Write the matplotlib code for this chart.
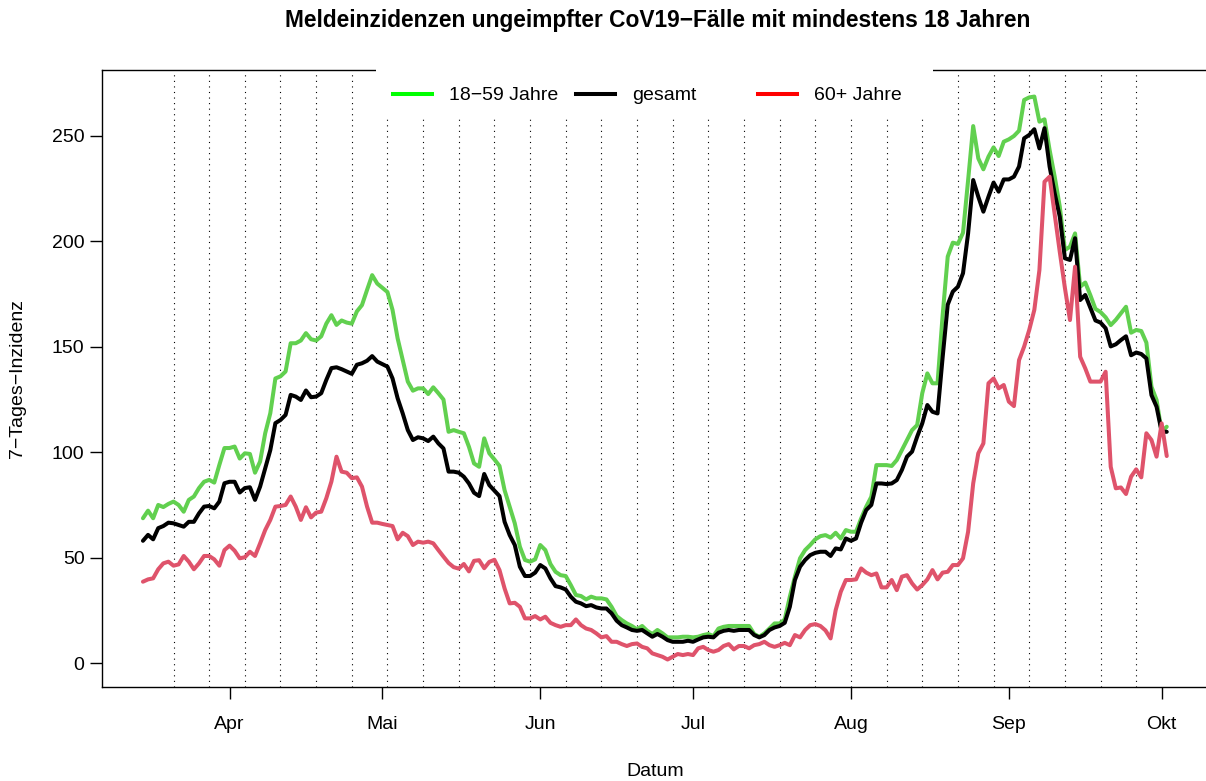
import matplotlib
matplotlib.use("Agg")
import matplotlib.pyplot as plt
import matplotlib.dates as mdates
import numpy as np
import pandas as pd
from matplotlib.lines import Line2D
from matplotlib.patches import Rectangle

# daily 7-day incidence, 2021-03-15 .. 2021-10-02
start_date = "2021-03-15"

inz_18_59 = [
    68.7, 72.3, 68.7, 75.0, 74.0, 75.5, 76.6, 75.0, 71.8, 77.4,
    79.0, 83.0, 86.0, 86.9, 85.6, 94.0, 102.0, 102.0, 102.7, 97.0,
    99.5, 99.2, 90.3, 95.6, 109.0, 118.5, 135.0, 136.0, 138.3, 151.7,
    151.7, 153.0, 156.5, 153.6, 153.0, 155.0, 161.0, 165.0, 160.4, 162.5,
    161.5, 161.0, 166.8, 169.8, 177.0, 184.0, 180.0, 178.0, 176.0, 167.5,
    154.0, 143.7, 133.5, 129.2, 130.3, 130.3, 127.6, 130.8, 128.0, 125.0,
    109.7, 110.5, 109.7, 109.0, 102.6, 94.7, 93.1, 106.6, 99.5, 96.6,
    93.5, 82.0, 74.2, 66.3, 55.2, 48.9, 48.1, 49.2, 56.0, 53.6,
    47.0, 43.3, 41.7, 41.3, 37.0, 32.3, 31.8, 30.2, 31.5, 30.7,
    30.7, 30.2, 26.7, 22.3, 20.4, 18.8, 17.6, 16.0, 17.6, 15.3,
    13.8, 15.7, 14.1, 12.2, 12.2, 12.2, 12.5, 12.5, 12.2, 12.5,
    13.3, 13.8, 12.8, 16.4, 17.2, 17.6, 17.6, 17.6, 17.6, 17.6,
    13.8, 12.5, 14.1, 16.4, 18.8, 18.8, 20.7, 31.5, 41.0, 49.7,
    53.6, 56.0, 58.7, 60.2, 60.7, 59.5, 61.8, 59.1, 63.1, 62.3,
    62.3, 68.6, 74.2, 78.9, 93.9, 93.9, 93.9, 93.5, 96.3, 101.0,
    105.8, 110.5, 112.9, 128.0, 137.4, 132.7, 132.7, 165.0, 192.8, 199.4,
    198.8, 204.1, 229.0, 254.7, 239.4, 234.2, 240.2, 244.6, 240.5, 247.3,
    248.4, 250.0, 252.5, 267.1, 268.3, 268.7, 256.8, 257.9, 243.4, 230.7,
    216.5, 195.9, 197.5, 203.8, 178.5, 180.5, 174.5, 168.0, 166.5, 164.0,
    160.3, 162.8, 165.9, 169.0, 156.7, 158.0, 157.5, 152.0, 131.1, 124.8,
    109.7, 112.1,
]

inz_gesamt = [
    58.0, 60.8, 58.7, 64.0, 65.0, 66.6, 66.3, 65.5, 64.7, 67.0,
    67.0, 71.0, 74.2, 74.5, 73.4, 76.6, 85.3, 86.0, 86.0, 80.9,
    83.0, 83.4, 77.4, 83.7, 92.4, 101.0, 113.8, 115.3, 117.7, 127.2,
    126.4, 124.8, 129.3, 126.1, 126.4, 128.0, 134.3, 139.9, 140.3, 139.4,
    138.3, 137.2, 141.5, 142.2, 143.4, 145.6, 143.0, 141.8, 140.6, 135.0,
    125.6, 118.4, 110.5, 105.8, 107.1, 106.6, 105.3, 107.4, 104.2, 101.8,
    90.8, 90.8, 90.3, 88.4, 85.2, 80.8, 79.2, 89.7, 84.4, 81.8,
    79.2, 67.0, 60.7, 56.0, 45.7, 41.3, 41.3, 42.9, 46.5, 44.9,
    40.2, 36.5, 35.9, 34.9, 31.5, 29.1, 28.3, 27.0, 27.5, 26.4,
    25.9, 25.9, 23.6, 20.1, 18.0, 16.9, 15.7, 15.3, 15.7, 14.1,
    12.5, 13.8, 12.5, 10.9, 10.1, 10.1, 10.1, 10.6, 10.1, 11.2,
    12.2, 12.5, 12.2, 14.4, 15.3, 15.7, 15.3, 15.7, 15.7, 15.7,
    13.3, 12.2, 13.3, 15.7, 16.9, 17.6, 19.1, 26.7, 39.4, 45.7,
    48.9, 51.2, 52.3, 52.8, 52.8, 50.8, 54.4, 53.9, 59.1, 58.0,
    59.1, 66.6, 72.6, 75.0, 85.2, 85.2, 84.9, 85.2, 86.8, 91.6,
    97.9, 100.3, 107.4, 113.7, 122.4, 119.2, 118.4, 145.0, 170.0, 176.2,
    178.5, 184.9, 203.8, 229.1, 221.2, 214.1, 221.2, 227.9, 223.6, 229.4,
    229.4, 230.7, 235.5, 248.9, 250.5, 253.2, 244.1, 253.7, 235.5, 222.8,
    211.7, 192.0, 191.2, 201.5, 172.2, 174.6, 168.5, 162.5, 161.5, 158.8,
    150.2, 151.2, 153.2, 155.0, 146.0, 147.3, 146.6, 144.5, 127.1, 121.6,
    109.7, 109.7,
]

inz_60plus = [
    38.6, 39.7, 40.2, 44.5, 47.3, 48.1, 46.2, 46.8, 50.8, 48.1,
    44.5, 47.3, 50.8, 50.8, 49.2, 46.2, 53.6, 55.7, 53.3, 49.7,
    50.2, 52.8, 50.8, 56.8, 63.1, 67.9, 74.2, 74.5, 75.0, 79.0,
    74.2, 67.9, 73.9, 69.1, 71.4, 71.8, 78.2, 86.1, 97.9, 90.8,
    90.3, 87.7, 88.1, 83.7, 74.2, 66.6, 66.6, 66.0, 65.5, 65.0,
    58.7, 61.8, 60.2, 56.0, 57.6, 57.1, 57.6, 56.8, 53.6, 50.5,
    47.5, 45.5, 44.8, 47.0, 43.5, 48.5, 48.8, 45.0, 48.0, 49.0,
    44.1, 35.4, 28.3, 28.6, 26.7, 21.2, 21.2, 22.3, 20.7, 22.0,
    19.1, 18.0, 17.2, 18.0, 18.0, 20.7, 18.0, 16.4, 15.7, 14.1,
    12.2, 12.8, 10.1, 10.1, 9.0, 8.1, 9.0, 9.3, 7.7, 7.0,
    4.6, 3.8, 3.0, 1.7, 3.0, 4.3, 3.8, 4.3, 3.8, 7.0,
    7.7, 6.2, 5.4, 6.2, 8.1, 9.0, 6.5, 8.1, 8.1, 7.0,
    8.5, 9.0, 10.1, 8.5, 7.7, 8.5, 9.6, 8.5, 13.3, 12.2,
    15.7, 18.0, 18.5, 17.6, 15.5, 11.7, 25.1, 33.8, 39.4, 39.4,
    39.7, 44.9, 42.9, 41.7, 42.5, 35.9, 35.9, 39.4, 34.6, 41.0,
    41.7, 37.8, 34.9, 37.0, 39.7, 44.1, 39.7, 42.9, 43.3, 46.5,
    46.5, 49.7, 62.3, 85.2, 99.5, 104.2, 132.7, 135.0, 130.3, 131.9,
    124.0, 121.9, 143.7, 150.1, 158.0, 167.5, 186.4, 228.3, 230.7, 213.0,
    195.0, 178.0, 162.7, 188.0, 145.3, 139.8, 133.5, 133.5, 133.5, 138.2,
    93.1, 82.9, 83.3, 80.2, 88.4, 91.9, 88.1, 109.0, 105.8, 97.9,
    113.7, 98.2,
]

series_names = ["18\u221259 Jahre", "gesamt", "60+ Jahre"]
month_ticks = ["2021-04-01", "2021-05-01", "2021-06-01", "2021-07-01",
               "2021-08-01", "2021-09-01", "2021-10-01"]
month_labels = ["Apr", "Mai", "Jun", "Jul", "Aug", "Sep", "Okt"]
y_ticks = [0, 50, 100, 150, 200, 250]

assert len(inz_18_59) == len(inz_gesamt) == len(inz_60plus)

plt.rcParams["font.family"] = ["Liberation Sans", "DejaVu Sans"]

W, H = 1206, 781
fig = plt.figure(figsize=(W / 100, H / 100), dpi=100)

# plot region in pixels (R style box, right edge runs just past the image)
px_left, px_right, px_top, px_bottom = 102, 1207.7, 70, 686.7
ax = fig.add_axes([px_left / W, 1 - px_bottom / H,
                   (px_right - px_left) / W, (px_bottom - px_top) / H])

dates = pd.date_range(start_date, periods=len(inz_gesamt), freq="D")
x = mdates.date2num(dates.to_pydatetime())
pad_days = 0.04 * (x[-1] - x[0])
ax.set_xlim(x[0] - pad_days, x[-1] + pad_days)
ax.set_ylim(-11.2, 281.3)

# weekly dotted guide lines (Sundays)
sundays = dates[dates.dayofweek == 6]
for d in mdates.date2num(sundays.to_pydatetime()):
    ax.axvline(d, color="black", lw=0.8, ls=(0, (1, 4)), zorder=1)

line_kw = dict(lw=2.9, solid_joinstyle="round", solid_capstyle="round", zorder=3)
ax.plot(x, inz_18_59, color="#61D04F", **line_kw)
ax.plot(x, inz_gesamt, color="black", **line_kw)
ax.plot(x, inz_60plus, color="#DF536B", **line_kw)

ax.set_xticks(mdates.date2num(pd.to_datetime(month_ticks).to_pydatetime()))
ax.set_xticklabels(month_labels)
ax.set_yticks(y_ticks)
ax.tick_params(axis="both", direction="out", length=8.6, width=1.0,
               labelsize=14, color="black")
ax.tick_params(axis="x", pad=12.5)
ax.tick_params(axis="y", pad=4)
for s in ax.spines.values():
    s.set_linewidth(1.0)

# legend: white box over the top of the plot region, no frame
ax.add_patch(Rectangle(((376 - px_left) / (px_right - px_left), (px_bottom - 119) / (px_bottom - px_top)),
                       (933 - 376) / (px_right - px_left), 0.1,
                       transform=ax.transAxes, facecolor="white", edgecolor="none",
                       clip_on=False, zorder=5))
legend_colors = ["#00FF00", "black", "#FF0000"]
legend_x = [393, 576, 758]
for name, col, lx in zip(series_names, legend_colors, legend_x):
    fig.add_artist(Line2D([lx / W, (lx + 39) / W], [1 - 94 / H, 1 - 94 / H], color=col,
                          lw=2.9, transform=fig.transFigure, zorder=6))
    fig.text((lx + 56) / W, 1 - 95 / H, name, fontsize=14, ha="left", va="center",
             zorder=7)

cx = (px_left + px_right) / 2 / W
fig.text(cx + 3 / W, 1 - 21 / H,
         "Meldeinzidenzen ungeimpfter CoV19\u2212F\u00e4lle mit mindestens 18 Jahren",
         fontsize=16.4, fontweight="bold", ha="center", va="center")
fig.text(cx, 1 - 771 / H, "Datum", fontsize=14, ha="center", va="center")
fig.text(18 / W, 1 - (px_top + px_bottom) / 2 / H, "7\u2212Tages\u2212Inzidenz",
         fontsize=14, rotation=90, ha="center", va="center")

fig.savefig("out.png", dpi=100)
